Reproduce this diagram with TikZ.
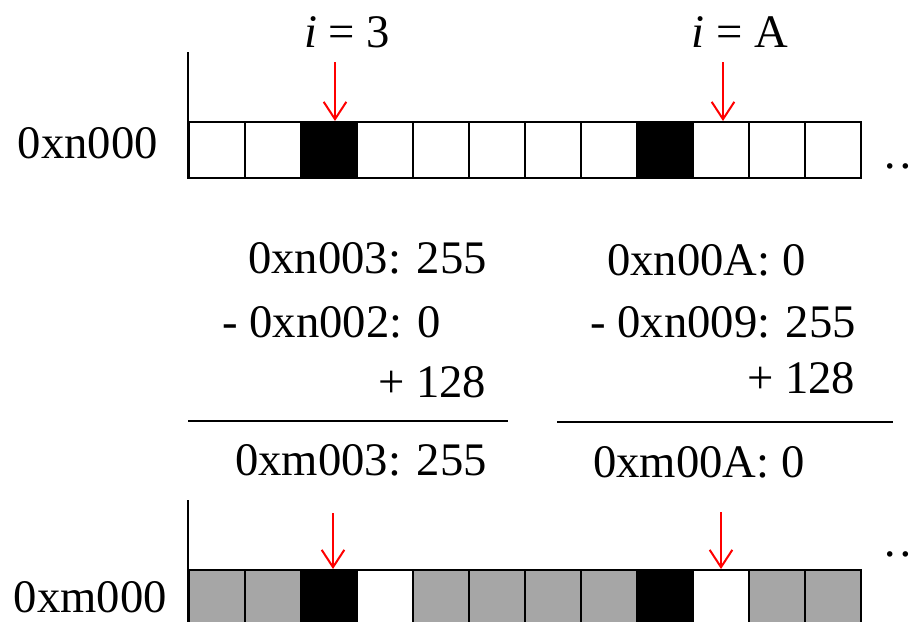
\documentclass[tikz,border=0pt]{standalone}
\usepackage{fontspec}
\setmainfont{Liberation Serif}
\usetikzlibrary{arrows.meta}
\tikzset{
  cell/.style={draw=black, line width=1.5pt, minimum width=42pt, minimum height=42pt, inner sep=0pt},
  full/.style={cell, fill=black},
  grey/.style={cell, fill=black!35},
  ptr/.style={red, line width=1.5pt, -{Straight Barb[length=13pt,width=17pt,line width=1.5pt]}},
  axis/.style={black, line width=2.2pt},
  txt/.style={inner sep=0pt, font=\fontsize{35}{42}\selectfont}
}

\begin{document}
\begin{tikzpicture}[x=0.75pt,y=-0.75pt]
\useasboundingbox (0,0) rectangle (912,621);
% old memory row
\node[cell] (n0) at (217,150) {};
\node[cell] (n1) at (273,150) {};
\node[full] (n2) at (329,150) {};
\node[cell] (n3) at (385,150) {};
\node[cell] (n4) at (441,150) {};
\node[cell] (n5) at (497,150) {};
\node[cell] (n6) at (553,150) {};
\node[cell] (n7) at (609,150) {};
\node[full] (n8) at (665,150) {};
\node[cell] (n9) at (721,150) {};
\node[cell] (n10) at (777,150) {};
\node[cell] (n11) at (833,150) {};
\coordinate (ntop) at (188,52);
\draw[axis] (ntop) -- (ntop |- n0.south);
\node[txt, anchor=base east] (nlbl) at (158,158) {0xn000};
\node[txt, anchor=base west] (ndots) at (882,168) {\dots};
% pointers
\node[txt, anchor=base] (ia) at (347,47) {\textit{i} = 3};
\node[txt, anchor=base] (ib) at (740,47) {\textit{i} = A};
\coordinate (pa) at (335,62);
\coordinate (pb) at (723,62);
\draw[ptr] (pa) -- (pa |- n2.north);
\draw[ptr] (pb) -- (pb |- n9.north);
% sums
\node[txt, anchor=base west] (sa1) at (248,273) {0xn003: 255};
\node[txt, anchor=base west] (sa2) at (222,337) {- 0xn002: 0};
\node[txt, anchor=base west] (sa3) at (378,397) {+ 128};
\node[txt, anchor=base west] (sa4) at (235,475) {0xm003: 255};
\draw[line width=1.5pt] (188,421) -- (508,421);
\node[txt, anchor=base west] (sb1) at (607,275) {0xn00A: 0};
\node[txt, anchor=base west] (sb2) at (590,337) {- 0xn009: 255};
\node[txt, anchor=base west] (sb3) at (747,393) {+ 128};
\node[txt, anchor=base west] (sb4) at (593,477) {0xm00A: 0};
\draw[line width=1.5pt] (557,422) -- (893,422);
% new memory row
\node[grey] (m0) at (217,598) {};
\node[grey] (m1) at (273,598) {};
\node[full] (m2) at (329,598) {};
\node[cell] (m3) at (385,598) {};
\node[grey] (m4) at (441,598) {};
\node[grey] (m5) at (497,598) {};
\node[grey] (m6) at (553,598) {};
\node[grey] (m7) at (609,598) {};
\node[full] (m8) at (665,598) {};
\node[cell] (m9) at (721,598) {};
\node[grey] (m10) at (777,598) {};
\node[grey] (m11) at (833,598) {};
\coordinate (mtop) at (188,500);
\draw[axis] (mtop) -- (mtop |- m0.south);
\node[txt, anchor=base east] (mlbl) at (167,612) {0xm000};
\node[txt, anchor=base west] (mdots) at (882,556) {\dots};
\coordinate (qa) at (333,513);
\coordinate (qb) at (721,512);
\draw[ptr] (qa) -- (qa |- m2.north);
\draw[ptr] (qb) -- (qb |- m9.north);
\end{tikzpicture}
\end{document}
